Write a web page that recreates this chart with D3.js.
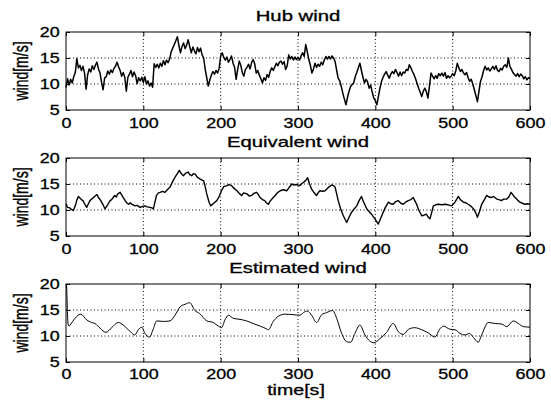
<html>
<script src="https://d3js.org/d3.v7.min.js"></script>
<body style="margin:0;background:#fff">
<svg id="chart"></svg>
<script>
    const width = 551;
    const height = 401;

    // axis ticks
    const xTicks = [0, 100, 200, 300, 400, 500, 600];
    const yTicks = [5, 10, 15, 20];
    const titles = ['Hub wind', 'Equivalent wind', 'Estimated wind'];

    // hub wind, one sample every 2 s
    const hubTime = d3.range(0, 601, 2);
    const hubValues = [
        9.3, 11.0, 9.8, 10.9, 10.2, 11.4, 12.2, 14.9, 13.1, 13.6,
        12.6, 13.4, 12.1, 9.0, 11.8, 12.9, 12.3, 13.5, 12.8, 13.6,
        14.2, 12.9, 12.1, 10.3, 8.9, 11.2, 11.4, 12.5, 11.9, 12.7,
        12.2, 13.0, 13.4, 14.2, 13.3, 12.6, 11.5, 12.2, 11.3, 8.6,
        11.3, 11.9, 12.6, 11.4, 12.3, 11.6, 10.1, 11.2, 10.6, 11.3,
        10.3, 11.4, 10.0, 10.6, 9.6, 10.2, 9.4, 13.9, 13.2, 13.8,
        13.1, 14.0, 13.4, 14.5, 13.7, 14.6, 14.1, 14.8, 16.2, 16.9,
        17.6, 18.3, 19.1, 17.4, 16.0, 17.2, 17.9, 16.8, 17.5, 18.5,
        17.2, 16.0, 17.1, 16.4, 15.8, 17.0, 16.2, 16.9, 15.6, 15.0,
        12.8, 11.2, 9.6, 10.8, 11.7, 12.4, 11.9, 12.6, 12.1, 13.0,
        15.4, 16.0, 15.1, 14.6, 15.2, 14.2, 14.7, 15.4, 14.0, 13.2,
        10.9, 12.8, 14.4, 13.6, 12.2, 11.5, 12.8, 13.2, 13.8, 12.9,
        14.1, 14.7, 13.9, 12.1, 12.6, 11.7, 11.0, 10.2, 11.2, 10.7,
        11.8, 11.3, 12.4, 13.1, 12.6, 13.3, 14.0, 13.5, 14.2, 14.4,
        13.8, 14.3, 12.8, 13.5, 15.6, 14.8, 15.3, 14.6, 15.2, 14.7,
        15.1, 14.6, 15.4, 16.0, 15.3, 17.6, 16.2, 14.7, 13.6, 12.1,
        12.9, 14.0, 13.2, 13.8, 13.4, 14.2, 13.7, 14.6, 15.3, 14.8,
        15.3, 14.8, 15.4, 15.0, 14.3, 12.6, 11.1, 10.6, 9.5, 8.2,
        7.1, 6.0, 7.4, 8.6, 9.5, 9.9, 10.2, 11.4, 12.2, 13.1,
        14.0, 12.6, 11.3, 10.2, 10.9, 10.4, 9.2, 9.8, 8.4, 7.3,
        6.8, 6.0, 7.6, 9.2, 10.5, 11.3, 11.9, 12.4, 11.7, 11.1,
        11.9, 12.4, 12.0, 12.8, 12.2, 11.5, 12.3, 11.6, 12.3, 12.1,
        12.8, 12.6, 13.7, 13.1, 12.4, 11.8, 11.0, 10.1, 9.2, 8.4,
        7.6, 8.6, 9.2, 8.5, 7.3, 9.6, 12.1, 11.5, 11.0, 11.6,
        11.1, 12.0, 11.6, 12.1, 11.5, 12.2, 11.1, 11.6, 11.2, 11.5,
        12.0, 11.6, 12.5, 14.0, 13.1, 12.4, 12.8, 12.1, 11.8, 12.2,
        11.2, 10.5, 10.9, 10.0, 8.9, 7.8, 6.6, 8.6, 10.5, 11.4,
        12.6, 13.4, 12.7, 13.1, 12.5, 12.9, 13.4, 12.8, 13.5, 12.6,
        12.4, 13.0, 12.7, 13.4, 13.7, 13.2, 15.0, 13.4, 12.8, 12.2,
        11.8, 11.5, 12.0, 11.4, 11.9, 11.6, 11.0, 11.4, 10.8, 11.2,
        11.1
    ];

    const eqTime = [0, 2, 5, 7, 9.5, 12, 14, 16, 18, 20, 22, 24, 26.7, 29, 31, 34, 37, 40, 42, 45,
        48, 50.5, 53, 55, 57, 59, 61, 63, 65, 67, 70, 72, 74, 77, 79, 81, 83, 85, 87, 89,
        92, 95.7, 99, 102, 105, 108.6, 111, 113, 117, 119.5, 121.6, 125, 128, 131, 134.5, 138, 141, 144, 146.5, 149,
        151.7, 155, 158, 160, 162.5, 165, 167, 170, 173, 178, 180, 182, 185, 187, 191, 195, 198, 201, 204, 208,
        211, 214, 217, 221, 224, 227, 230, 234, 237, 240, 243, 246.5, 249, 251, 254, 257, 259, 261.6, 264, 268,
        271, 274, 277, 281, 285.4, 288, 292, 295, 298, 302.6, 305, 307, 310, 312.5, 315, 317.6, 321, 324, 326, 328.4,
        332, 335, 339, 343.5, 346, 348, 352, 355, 358.6, 363, 366, 369, 372, 376, 379, 382, 385, 389, 392, 395,
        399.5, 403.8, 407, 410, 413, 417, 420, 423, 426, 429.7, 433, 436, 439, 442.6, 446, 449, 451, 453.4, 456, 460,
        463, 466, 468, 470.6, 473, 475, 478, 481.5, 486, 490, 494, 498.7, 503, 507.4, 510, 514, 517, 520, 524, 527,
        530, 532, 535, 537.5, 541, 544, 547, 550, 553, 557, 560, 563, 566, 570, 573, 575.5, 578, 580.6, 584, 587,
        590, 593.6, 597, 600];
    const eqValues = [11.2, 10.5, 10.4, 10.1, 9.9, 10.8, 11.9, 12.6, 12.3, 12.0, 11.8, 11.2, 10.5, 11.2, 11.8, 12.2, 12.6, 13.0, 12.4, 11.8,
        11.0, 10.2, 10.8, 11.3, 11.8, 12.0, 12.4, 12.8, 12.5, 13.1, 13.4, 12.9, 12.4, 11.7, 11.3, 11.1, 11.4, 11.1, 11.0, 10.8,
        10.9, 10.5, 10.7, 10.8, 10.6, 10.5, 10.4, 10.2, 12.8, 13.3, 13.4, 13.6, 13.4, 13.9, 14.4, 15.5, 16.3, 17.0, 17.6, 17.0,
        16.6, 17.1, 17.3, 16.8, 16.6, 17.0, 16.9, 16.3, 16.0, 15.6, 14.5, 13.1, 11.5, 10.8, 11.3, 11.8, 12.6, 13.7, 14.5, 14.7,
        14.9, 14.7, 14.2, 13.7, 13.2, 12.8, 13.3, 13.1, 12.7, 12.8, 13.2, 13.4, 12.9, 12.4, 12.0, 11.8, 11.4, 11.1, 11.7, 12.4,
        12.9, 13.4, 13.7, 13.9, 13.7, 14.2, 15.0, 14.8, 14.9, 14.7, 15.1, 15.3, 15.7, 16.2, 15.0, 14.0, 13.3, 12.8, 13.3, 13.7,
        13.6, 13.7, 14.3, 14.8, 14.7, 14.4, 11.8, 10.3, 8.9, 7.6, 8.6, 9.5, 10.1, 10.8, 11.8, 12.6, 11.5, 10.2, 9.7, 9.2,
        8.3, 7.3, 8.4, 9.5, 10.5, 11.5, 11.2, 11.1, 11.6, 11.8, 11.3, 11.1, 11.5, 11.8, 12.0, 12.4, 11.8, 11.1, 10.0, 8.9,
        9.0, 9.2, 8.7, 8.3, 9.6, 10.8, 11.0, 11.1, 11.0, 11.1, 11.0, 10.8, 11.5, 12.6, 12.0, 11.5, 11.4, 11.1, 10.7, 10.2,
        9.4, 8.6, 9.8, 11.1, 12.0, 12.8, 12.5, 12.4, 12.6, 12.1, 12.0, 11.8, 12.1, 12.1, 12.6, 13.4, 12.9, 12.4, 11.9, 11.5,
        11.3, 11.1, 11.2, 11.1];

    const estTime = [0, 0.8, 1.5, 2.5, 4, 5.2, 11.6, 19, 26.7, 33, 37.5, 44, 51.7, 59, 67.7, 74, 82.8, 89, 93.5, 98,
        102, 108, 113, 117.3, 126, 134.5, 141, 147.5, 154, 160, 166.7, 173, 182, 190.4, 197, 201, 205.6, 210, 216.4, 225,
        233.6, 242, 251, 259, 261.6, 268, 274.6, 283, 294, 302.6, 307, 312, 317.6, 324, 330.6, 337, 344.8, 350, 356.4, 363,
        368, 373.6, 380, 386.6, 393, 398, 406, 414.6, 423, 430, 436, 443, 451, 460, 468.5, 477, 483.6, 488, 496.5, 503,
        509.5, 516, 521.5, 527, 533, 537.5, 546, 555, 563.5, 570, 578.5, 585, 591.5, 600];
    const estValues = [20, 19.5, 16.5, 12.5, 11.9, 12.1, 13.4, 14.2, 13.1, 12.6, 12.4, 11.5, 10.7, 11.6, 12.6, 12.1, 10.9, 10.2, 11.2, 11.7,
        10.5, 9.8, 11.4, 12.9, 12.8, 12.9, 14.0, 15.6, 16.1, 16.4, 14.9, 14.3, 12.9, 12.6, 11.9, 11.6, 13.1, 14.0, 13.4, 13.2,
        12.9, 12.4, 11.9, 11.4, 11.2, 12.8, 13.8, 14.2, 14.1, 14.0, 14.5, 14.8, 14.0, 12.6, 14.1, 14.5, 14.9, 13.4, 10.5, 8.9,
        8.8, 10.5, 12.1, 10.2, 9.0, 8.7, 9.5, 10.7, 12.4, 10.8, 10.3, 11.3, 11.6, 11.2, 10.6, 9.8, 11.4, 11.9, 11.3, 11.2,
        10.5, 10.2, 10.5, 9.7, 8.8, 10.2, 12.6, 12.4, 12.3, 11.8, 12.9, 12.4, 11.8, 11.7];

    const tops = [32, 158, 284];
    const padding = [8, 8, 7];
    const panelH = 78;
    const fontFamily = '"Liberation Sans", Arial, sans-serif';

    const svg = d3.select('#chart').attr('width', width).attr('height', height)
        .style('font-family', fontFamily);

    const x = d3.scaleLinear().domain([0, 600]).range([66, 530]);

    const series = [
        {t: hubTime, v: hubValues, w: 1.5, curve: d3.curveLinear},
        {t: eqTime, v: eqValues, w: 1.4, curve: d3.curveLinear},
        {t: estTime, v: estValues, w: 1, curve: d3.curveMonotoneX}
    ];

    series.forEach((s, i) => drawPanel(i, s));

    function drawPanel(i, s) {
        const top = tops[i];
        const bottom = top + panelH;
        const y = d3.scaleLinear().domain([5, 20]).range([bottom, top]);
        const g = svg.append('g');

        // dotted grid
        g.selectAll('.gx').data(xTicks.slice(1, -1)).enter().append('line')
            .attr('x1', d => x(d)).attr('x2', d => x(d))
            .attr('y1', top).attr('y2', bottom)
            .style('stroke', '#000').style('stroke-dasharray', '1,2.5');
        g.selectAll('.gy').data(yTicks.slice(1, -1)).enter().append('line')
            .attr('x1', 66).attr('x2', 530)
            .attr('y1', d => y(d)).attr('y2', d => y(d))
            .style('stroke', '#000').style('stroke-dasharray', '1,2.5');

        const line = d3.line().x(d => x(d[0])).y(d => y(d[1])).curve(s.curve);
        g.append('path')
            .datum(s.t.map((t, k) => [t, s.v[k]]))
            .attr('d', line)
            .style('fill', 'none').style('stroke', '#000')
            .style('stroke-width', s.w).style('stroke-linejoin', 'round');

        // axes with inward ticks
        const ax = g.append('g').attr('transform', `translate(0,${bottom})`)
            .call(d3.axisBottom(x).tickValues(xTicks).tickSize(-4).tickPadding(padding[i]));
        g.append('g').attr('transform', `translate(0,${top})`)
            .call(d3.axisTop(x).tickValues(xTicks).tickSize(-4).tickFormat(''));
        const ay = g.append('g').attr('transform', 'translate(66,0)')
            .call(d3.axisLeft(y).tickValues(yTicks).tickSize(-4));
        g.append('g').attr('transform', 'translate(530,0)')
            .call(d3.axisRight(y).tickValues(yTicks).tickSize(-4).tickFormat(''));
        g.selectAll('.domain').remove();
        g.selectAll('.tick line').style('stroke', '#000');
        [ax, ay].forEach(a => a.selectAll('text')
            .attr('transform', 'scale(1.28,1)')
            .style('font-size', '14px').style('fill', '#000')
            .style('stroke', '#000').style('stroke-width', 0.3)
            .style('font-family', fontFamily));
        ay.selectAll('text').attr('x', -5);

        g.append('rect')
            .attr('x', 66).attr('y', top).attr('width', 464).attr('height', panelH)
            .style('fill', 'none').style('stroke', '#000').style('stroke-width', 1);

        addText(298, top - 11, titles[i], 1.45, false);
        addText(28, (top + bottom) / 2, 'wind[m/s]', 1.4, true);
    }

    addText(296, 395, 'time[s]', 1.4, false);

    function addText(px, py, str, sx, rotate) {
        svg.append('text')
            .attr('transform', `translate(${px},${py}) scale(${sx},1)` + (rotate ? ' rotate(-90)' : ''))
            .attr('text-anchor', 'middle')
            .style('font-size', '14px')
            .style('fill', '#000')
            .style('stroke', '#000').style('stroke-width', 0.3)
            .text(str);
    }
</script>
</body>
</html>
